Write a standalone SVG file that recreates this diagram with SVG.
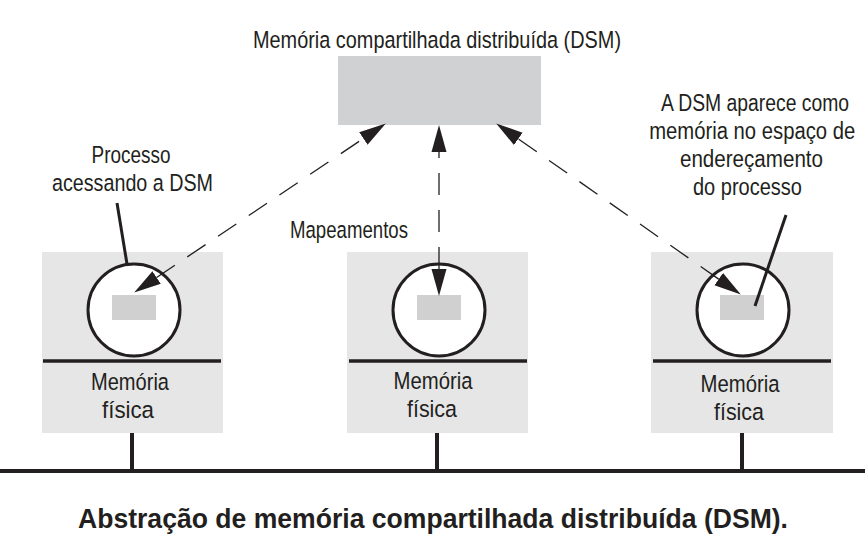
<svg xmlns="http://www.w3.org/2000/svg" width="865" height="538" viewBox="0 0 865 538">
<style>
text{font-family:"Liberation Sans",Arial,sans-serif;fill:#231f20;}
.t{font-size:24.5px;}
.c{text-anchor:middle;}
.cap{font-size:27px;font-weight:bold;}
.node{fill:#e6e6e6;}
.sep{stroke:#231f20;stroke-width:3.5;}
.proc{fill:#fff;stroke:#231f20;stroke-width:3;}
.dsm{fill:#d0d1d3;}
.dash{stroke:#231f20;stroke-width:1.3;fill:none;stroke-dasharray:22 15;}
.ptr{stroke:#231f20;stroke-width:3;fill:none;}
.bus{stroke:#231f20;stroke-width:4;fill:none;}
</style>
<defs>
<marker id="ah" markerUnits="userSpaceOnUse" markerWidth="28" markerHeight="16" refX="0" refY="7.5" orient="auto-start-reverse" viewBox="0 0 28 15">
<path d="M0,0 L27,7.5 L0,15 z" fill="#231f20"/>
</marker>
</defs>
<rect width="865" height="538" fill="#fff"/>

<g id="dsm">
<text class="t c" x="437" y="48" textLength="368" lengthAdjust="spacingAndGlyphs">Memória compartilhada distribuída (DSM)</text>
<rect class="dsm" x="338" y="56" width="203" height="69"/>
</g>

<g id="node1">
<rect class="node" x="42" y="252" width="181" height="181"/>
<line class="sep" x1="43" y1="361" x2="221" y2="361"/>
<circle class="proc" cx="134" cy="310" r="46"/>
<rect fill="#d0d0d0" x="112" y="295" width="44" height="25"/>
<text class="t c" x="130" y="390" textLength="78" lengthAdjust="spacingAndGlyphs">Memória</text>
<text class="t c" x="128" y="418" textLength="52" lengthAdjust="spacingAndGlyphs">física</text>
</g>

<g id="node2">
<rect class="node" x="347" y="252" width="181" height="181"/>
<line class="sep" x1="349" y1="361" x2="527" y2="361"/>
<circle class="proc" cx="439" cy="310" r="46"/>
<rect fill="#d0d0d0" x="417" y="295" width="44" height="25"/>
<text class="t c" x="433" y="389" textLength="79" lengthAdjust="spacingAndGlyphs">Memória</text>
<text class="t c" x="432" y="417" textLength="50" lengthAdjust="spacingAndGlyphs">física</text>
</g>

<g id="node3">
<rect class="node" x="651" y="252" width="182" height="181"/>
<line class="sep" x1="653" y1="361" x2="831" y2="361"/>
<circle class="proc" cx="743" cy="310" r="46"/>
<rect fill="#d0d0d0" x="720" y="295" width="44" height="25"/>
<text class="t c" x="740" y="392" textLength="79" lengthAdjust="spacingAndGlyphs">Memória</text>
<text class="t c" x="739" y="420" textLength="50" lengthAdjust="spacingAndGlyphs">física</text>
</g>

<g id="label-processo">
<text class="t c" x="131" y="163" textLength="79" lengthAdjust="spacingAndGlyphs">Processo</text>
<text class="t c" x="132.5" y="191" textLength="161" lengthAdjust="spacingAndGlyphs">acessando a DSM</text>
</g>

<g id="label-aparece" transform="translate(753,0) scale(0.8,1)">
<text class="t c" x="2.5" y="111" textLength="235" lengthAdjust="spacingAndGlyphs">A DSM aparece como</text>
<text class="t c" x="-1" y="139" textLength="257.5" lengthAdjust="spacingAndGlyphs">memória no espaço de</text>
<text class="t c" x="-1.9" y="167" textLength="178.8" lengthAdjust="spacingAndGlyphs">endereçamento</text>
<text class="t c" x="-6.9" y="195" textLength="136.3" lengthAdjust="spacingAndGlyphs">do processo</text>
</g>

<g id="label-mapeamentos">
<text class="t c" x="349" y="238" textLength="118" lengthAdjust="spacingAndGlyphs">Mapeamentos</text>
</g>

<g id="connectors">
<path class="dash" d="M156.6,277.5 L363.4,138.5" marker-start="url(#ah)" marker-end="url(#ah)"/>
<path class="dash" d="M439,269 L439,152" marker-start="url(#ah)" marker-end="url(#ah)"/>
<path class="dash" d="M718.7,279.1 L518.3,138.9" marker-start="url(#ah)" marker-end="url(#ah)"/>
<line class="ptr" x1="117" y1="203" x2="127" y2="264"/>
<line class="ptr" x1="786" y1="215" x2="755" y2="306"/>
<line class="bus" x1="0" y1="471" x2="865" y2="471"/>
<line class="bus" x1="132" y1="433" x2="132" y2="471"/>
<line class="bus" x1="437" y1="433" x2="437" y2="471"/>
<line class="bus" x1="742" y1="433" x2="742" y2="471"/>
</g>

<g id="caption">
<text class="cap c" x="433" y="528" textLength="710" lengthAdjust="spacingAndGlyphs">Abstração de memória compartilhada distribuída (DSM).</text>
</g>
</svg>
